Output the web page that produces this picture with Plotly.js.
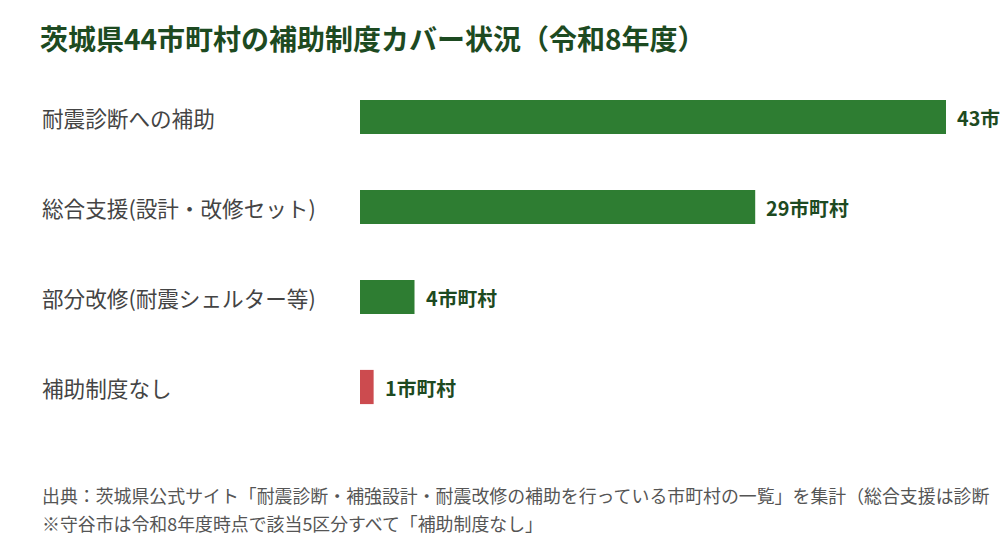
<!DOCTYPE html>
<html>
<head>
<meta charset="utf-8">
<script src="https://cdn.plot.ly/plotly-3.0.1.min.js"></script>
<style>
html,body{margin:0;padding:0;background:#fff;}
#chart{width:1000px;height:560px;}
</style>
</head>
<body>
<div id="chart"></div>
<script>
const categories = ["耐震診断への補助", "総合支援(設計・改修セット)", "部分改修(耐震シェルター等)", "補助制度なし"];
const counts = [43, 29, 4, 1];
const valueLabels = ["43市町村", "29市町村", "4市町村", "1市町村"];
const barColors = ["#2e7d32", "#2e7d32", "#2e7d32", "#cc4b4f"];
const titleText = "茨城県44市町村の補助制度カバー状況（令和8年度）";
const notes = [
  "出典：茨城県公式サイト「耐震診断・補強設計・耐震改修の補助を行っている市町村の一覧」を集計（総合支援は診断",
  "※守谷市は令和8年度時点で該当5区分すべて「補助制度なし」"
];

const FONT = '"Noto Sans CJK JP", "Noto Sans", sans-serif';
const L = 360, W = 640;

const annotations = [];
categories.forEach((c, i) => {
  annotations.push({
    xref: 'paper', yref: 'y', x: (40 - L) / W, y: c, xanchor: 'left', yanchor: 'middle',
    text: c, showarrow: false, font: {family: FONT, size: 21.6, color: '#444444'}
  });
  annotations.push({
    xref: 'x', yref: 'y', x: counts[i], y: c, xanchor: 'left', yanchor: 'middle', xshift: 9,
    text: '<b>' + valueLabels[i] + '</b>', showarrow: false,
    font: {family: FONT, size: 19.8, color: '#1d4a21'}
  });
});
notes.forEach((n, i) => {
  annotations.push({
    xref: 'paper', yref: 'paper', x: (40 - L) / W, y: -(63 + i * 28) / 360,
    xanchor: 'left', yanchor: 'middle', text: n, showarrow: false,
    font: {family: FONT, size: 17.9, color: '#555555'}
  });
});

const data = [{
  type: 'bar', orientation: 'h', x: counts, y: categories,
  marker: {color: barColors}, width: 0.38, hoverinfo: 'skip'
}];

const layout = {
  width: 1000, height: 560,
  margin: {l: L, r: 0, t: 72, b: 128},
  paper_bgcolor: '#ffffff', plot_bgcolor: '#ffffff',
  title: {text: '<b>' + titleText + '</b>', x: 40 / 1000, xanchor: 'left', xref: 'container',
          y: 1 - 40 / 560, yanchor: 'middle', yref: 'container',
          font: {family: FONT, size: 28, color: '#1d4a21'}},
  xaxis: {range: [0, W / ((946 - 360) / 43)], visible: false, fixedrange: true},
  yaxis: {type: 'category', autorange: false, range: [3.5, -0.5], showticklabels: false,
          showgrid: false, zeroline: false, showline: false, ticks: ''},
  showlegend: false,
  annotations: annotations
};
Plotly.newPlot('chart', data, layout, {displayModeBar: false, staticPlot: true});
</script>
</body>
</html>
